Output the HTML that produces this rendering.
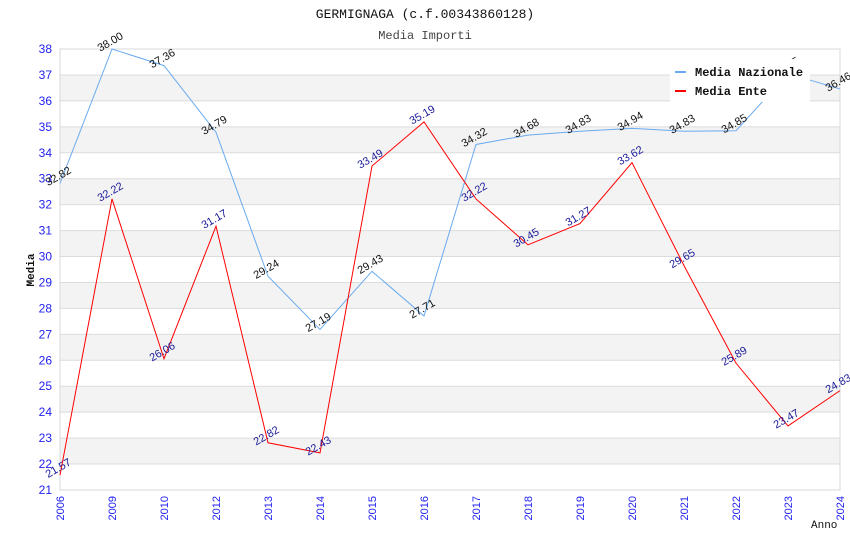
<!DOCTYPE html>
<html><head><meta charset="utf-8"><style>
body{margin:0;background:#fff;}
svg{display:block;font-family:"Liberation Sans",sans-serif;}
</style></head><body>
<svg id="chart" width="850" height="550"></svg>
<script>
const categories=["2006","2009","2010","2012","2013","2014","2015","2016","2017","2018","2019","2020","2021","2022","2023","2024"];
const nazionale=[32.82,38.00,37.36,34.79,29.24,27.19,29.43,27.71,34.32,34.68,34.83,34.94,34.83,34.85,37.05,36.46];
const ente=[21.57,32.22,26.06,31.17,22.82,22.43,33.49,35.19,32.22,30.45,31.27,33.62,29.65,25.89,23.47,24.83];
const yTicks=[21,22,23,24,25,26,27,28,29,30,31,32,33,34,35,36,37,38];
const L=60,R=840,T=49,B=490,yMin=21,yMax=38;
const X=i=>L+i*(R-L)/(categories.length-1);
const Y=v=>B-(v-yMin)*(B-T)/(yMax-yMin);
const svg=document.getElementById('chart');
const NS='http://www.w3.org/2000/svg';
function mk(tag,attrs,parent){const e=document.createElementNS(NS,tag);for(const k in attrs)e.setAttribute(k,attrs[k]);(parent||svg).appendChild(e);return e;}
for(let v=yMin;v<yMax;v++){
  if(v%2===0){const r=mk('rect',{x:L,y:Y(v+1),width:R-L,height:Y(v)-Y(v+1),fill:'#f3f3f3'});
  
  }
}
yTicks.forEach(v=>{
  const g=mk('line',{x1:L,x2:R,y1:Y(v),y2:Y(v),stroke:'#dcdcdc','stroke-width':1});
  
  
  const t=mk('text',{x:L-8,y:Y(v)+4,'text-anchor':'end','font-size':12,fill:'#2222ee'});
  t.textContent=v;
  
  
});
const frame=mk('rect',{x:L,y:T,width:R-L,height:B-T,fill:'none',stroke:'#d8d8d8'});


categories.forEach((c,i)=>{
  const t=mk('text',{x:X(i)+4,y:B+6,'text-anchor':'end','font-size':11,fill:'#2222ee',transform:`rotate(-90 ${X(i)+4} ${B+6})`});
  t.textContent=c;
  
  
});
function series(vals,color,lab,name){
  const p=mk('polyline',{points:vals.map((v,i)=>X(i)+','+Y(v)).join(' '),fill:'none',stroke:color,'stroke-width':1});
  
  
  vals.forEach((v,i)=>{
    const x=X(i),y=Y(v)-4;
    const t=mk('text',{x:x,y:y,'text-anchor':'middle','font-size':11,fill:lab,transform:`rotate(-30 ${x} ${y})`});
    t.textContent=v.toFixed(2);
    
    
  });
}
series(nazionale,'#6aaaf0','#111','media-nazionale');
series(ente,'#ff0000','#1a1a99','media-ente');
const t1=mk('text',{x:425,y:18,'text-anchor':'middle','font-size':13,'font-family':'Liberation Mono, monospace',fill:'#111'});t1.textContent='GERMIGNAGA (c.f.00343860128)';


const t2=mk('text',{x:425,y:39,'text-anchor':'middle','font-size':12,'font-family':'Liberation Mono, monospace',fill:'#444'});t2.textContent='Media Importi';


const ya=mk('text',{x:34,y:270,'text-anchor':'middle','font-size':11,'font-family':'Liberation Mono, monospace','font-weight':'bold',fill:'#111',transform:'rotate(-90 34 270)'});ya.textContent='Media';


const xa=mk('text',{x:811,y:528,'font-size':11,'font-family':'Liberation Mono, monospace',fill:'#111'});xa.textContent='Anno';


const lg=mk('g',{});


mk('rect',{x:670,y:59,width:140,height:43,fill:'#fff'},lg);
[['Media Nazionale','#6aaaf0',72],['Media Ente','#ff0000',91]].forEach(([n,c,y])=>{
  const e=mk('g',{},lg);
  
  
  mk('rect',{x:675,y:y-1,width:11,height:2,fill:c},e);
  const t=mk('text',{x:695,y:y+4,'font-size':12,'font-weight':'bold','font-family':'Liberation Mono, monospace',fill:'#111'},e);t.textContent=n;
});
</script>
</body></html>
